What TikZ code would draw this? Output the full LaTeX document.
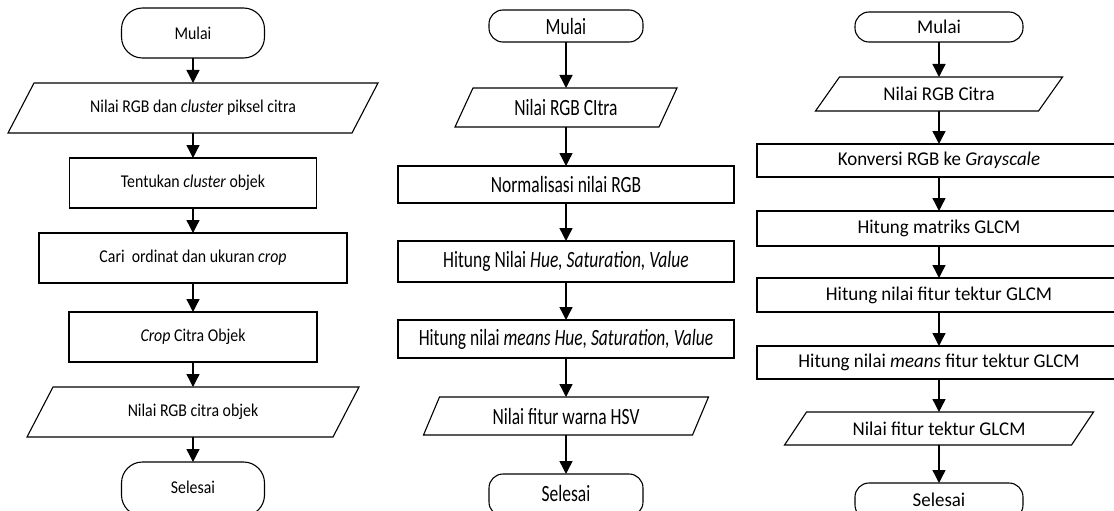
\documentclass[tikz,border=0pt]{standalone}
\usepackage{fontspec}
\setmainfont{Carlito}
\newfontfamily\lcolfont[FakeStretch=0.88]{Carlito}
\newfontfamily\mcolfont[FakeStretch=0.75]{Carlito}
\newfontfamily\rcolfont[FakeStretch=0.97]{Carlito}
\usetikzlibrary{arrows.meta,calc}
\newcommand\mypgram[2]{%
  \draw[line width=1.1pt,line join=miter]
    ($(#1.south west)+(-#2/2,0)$) -- ($(#1.north west)+(#2/2,0)$) --
    ($(#1.north east)+(#2/2,0)$) -- ($(#1.south east)+(-#2/2,0)$) -- cycle;}
\begin{document}
\begin{tikzpicture}[x=1pt,y=-1pt,
  every node/.style={inner sep=0pt,outer sep=0pt},
  box/.style={draw,line width=1.1pt,rectangle},
  term/.style={draw,line width=1.1pt,rectangle},
  io/.style={rectangle},
  flow/.style={line width=1.4pt,-{Triangle[width=13pt,length=13pt]}},
  lt/.style={font={\lcolfont\fontsize{18}{20}\selectfont}},
  mt/.style={font={\mcolfont\fontsize{23.3}{25}\selectfont}},
  rt/.style={font={\rcolfont\fontsize{19.5}{22}\selectfont}}]
\useasboundingbox (0,0) rectangle (1114,511);
\clip (0,0) rectangle (1114,511);

% ---------- left column ----------
\node[term,lt,rounded corners=21pt,minimum width=143pt,minimum height=50pt] (lmul) at (193,33) {Mulai};
\node[io,lt,minimum width=344pt,minimum height=50pt] (l1) at (193,108) {Nilai RGB dan \textit{cluster} piksel citra};
\mypgram{l1}{26}
\node[box,lt,minimum width=247pt,minimum height=50pt] (l2) at (193,183) {Tentukan \textit{cluster} objek};
\node[box,lt,minimum width=308pt,minimum height=50pt] (l3) at (193,258) {Cari~ ordinat dan ukuran \textit{crop}};
\node[box,lt,minimum width=248pt,minimum height=50pt] (l4) at (193,337) {\textit{Crop} Citra Objek};
\node[io,lt,minimum width=306pt,minimum height=50pt] (l5) at (193,412) {Nilai RGB citra objek};
\mypgram{l5}{26}
\node[term,lt,rounded corners=21pt,minimum width=143pt,minimum height=54pt] (l6) at (193,489) {\raisebox{4pt}{Selesai}};

\draw[flow] (lmul.south) -- (l1.north);
\draw[flow] (l1.south) -- (l2.north);
\draw[flow] (l2.south) -- (l3.north);
\draw[flow] (l3.south) -- (l4.north);
\draw[flow] (l4.south) -- (l5.north);
\draw[flow] (l5.south) -- (l6.north);

% ---------- middle column ----------
\node[term,mt,rounded corners=14pt,minimum width=154pt,minimum height=32pt] (mmul) at (566,26) {Mulai};
\node[io,mt,minimum width=204pt,minimum height=39pt] (m1) at (566,107.5) {Nilai RGB CItra};
\mypgram{m1}{18}
\node[box,mt,minimum width=336pt,minimum height=37pt] (m2) at (566,184.5) {Normalisasi nilai RGB};
\node[box,mt,minimum width=336pt,minimum height=41pt] (m3) at (566,261.5) {Hitung Nilai \textit{Hue, Saturation, Value}};
\node[box,mt,minimum width=336pt,minimum height=38pt] (m4) at (566,339) {Hitung nilai \textit{means Hue, Saturation, Value}};
\node[io,mt,minimum width=269pt,minimum height=38pt] (m5) at (566,416) {Nilai fitur warna HSV};
\mypgram{m5}{16}
\node[term,mt,rounded corners=14pt,minimum width=154pt,minimum height=42pt] (m6) at (566,495) {\raisebox{4pt}{Selesai}};

\draw[flow] (mmul.south) -- (m1.north);
\draw[flow] (m1.south) -- (m2.north);
\draw[flow] (m2.south) -- (m3.north);
\draw[flow] (m3.south) -- (m4.north);
\draw[flow] (m4.south) -- (m5.north);
\draw[flow] (m5.south) -- (m6.north);

% ---------- right column ----------
\node[term,rt,rounded corners=14pt,minimum width=168pt,minimum height=30pt] (rmul) at (939,27) {Mulai};
\node[io,rt,minimum width=223pt,minimum height=34pt] (r1) at (939,94) {Nilai RGB Citra};
\mypgram{r1}{24}
\node[box,rt,minimum width=364pt,minimum height=33pt] (r2) at (939,160.5) {Konversi RGB ke \textit{Grayscale}};
\node[box,rt,minimum width=364pt,minimum height=35pt] (r3) at (939,228.5) {Hitung matriks GLCM};
\node[box,rt,minimum width=364pt,minimum height=34pt] (r4) at (939,295) {Hitung nilai fitur tektur GLCM};
\node[box,rt,minimum width=364pt,minimum height=33pt] (r5) at (939,362.5) {Hitung nilai \textit{means} fitur tektur GLCM};
\node[io,rt,minimum width=287pt,minimum height=33pt] (r6) at (939,428.5) {Nilai fitur tektur GLCM};
\mypgram{r6}{22}
\node[term,rt,rounded corners=14pt,minimum width=168pt,minimum height=36pt] (r7) at (939,501) {\raisebox{3pt}{Selesai}};

\draw[flow] (rmul.south) -- (r1.north);
\draw[flow] (r1.south) -- (r2.north);
\draw[flow] (r2.south) -- (r3.north);
\draw[flow] (r3.south) -- (r4.north);
\draw[flow] (r4.south) -- (r5.north);
\draw[flow] (r5.south) -- (r6.north);
\draw[flow] (r6.south) -- (r7.north);
\end{tikzpicture}
\end{document}
